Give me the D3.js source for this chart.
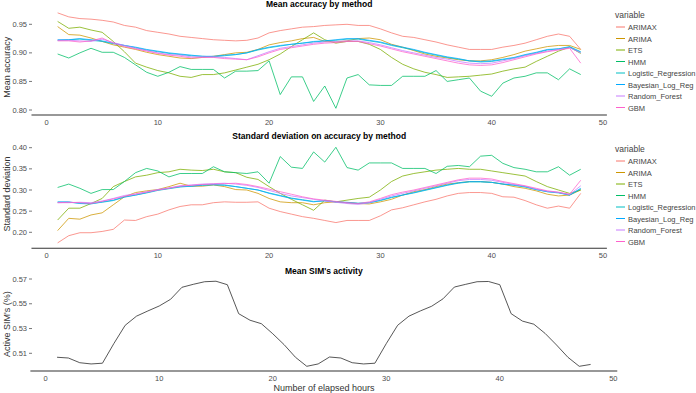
<!DOCTYPE html>
<html>
<head>
<meta charset="utf-8">
<script src="https://cdn.jsdelivr.net/npm/d3@7"></script>
<style>
  body { margin: 0; background: #fff; }
  svg { font-family: "Liberation Sans", Arial, sans-serif; }
</style>
</head>
<body>
<svg id="chart" width="696" height="393"></svg>
<script>
// hours 1..48
var hours = d3.range(1, 49);
var methods = ["ARIMAX", "ARIMA", "ETS", "HMM", "Logistic_Regression", "Bayesian_Log_Reg", "Random_Forest", "GBM"];
var colors = ["#F8766D", "#CD9600", "#7CAE00", "#00BE67", "#00BFC4", "#00A9FF", "#C77CFF", "#FF61CC"];
var xTicks = [0, 10, 20, 30, 40, 50];

// mean accuracy
var accARIMAX = [0.970, 0.963, 0.960, 0.959, 0.957, 0.954, 0.948, 0.945, 0.939, 0.936, 0.933, 0.929, 0.927, 0.925, 0.923, 0.922, 0.921, 0.922, 0.926, 0.935, 0.939, 0.942, 0.945, 0.946,
  0.948, 0.949, 0.950, 0.948, 0.948, 0.942, 0.935, 0.929, 0.927, 0.923, 0.919, 0.914, 0.910, 0.906, 0.906, 0.906, 0.910, 0.913, 0.917, 0.923, 0.929, 0.933, 0.929, 0.906];
var accARIMA = [0.946, 0.932, 0.931, 0.926, 0.920, 0.914, 0.910, 0.906, 0.901, 0.897, 0.894, 0.891, 0.890, 0.892, 0.894, 0.897, 0.900, 0.901, 0.906, 0.914, 0.918, 0.921, 0.925, 0.927,
  0.920, 0.919, 0.921, 0.925, 0.926, 0.923, 0.915, 0.910, 0.904, 0.898, 0.894, 0.891, 0.888, 0.886, 0.886, 0.888, 0.892, 0.897, 0.903, 0.907, 0.911, 0.913, 0.913, 0.906];
var accETS = [0.955, 0.943, 0.945, 0.940, 0.936, 0.920, 0.902, 0.882, 0.875, 0.869, 0.865, 0.859, 0.857, 0.862, 0.862, 0.865, 0.870, 0.875, 0.880, 0.888, 0.898, 0.911, 0.923, 0.935,
  0.923, 0.917, 0.920, 0.920, 0.915, 0.906, 0.892, 0.880, 0.872, 0.866, 0.862, 0.857, 0.858, 0.859, 0.861, 0.863, 0.868, 0.872, 0.875, 0.885, 0.894, 0.903, 0.910, 0.899];
var accHMM = [0.898, 0.891, 0.900, 0.908, 0.901, 0.901, 0.892, 0.879, 0.866, 0.859, 0.866, 0.876, 0.871, 0.871, 0.871, 0.856, 0.868, 0.868, 0.869, 0.886, 0.827, 0.858, 0.858, 0.815,
  0.842, 0.803, 0.856, 0.862, 0.844, 0.843, 0.843, 0.859, 0.859, 0.859, 0.869, 0.850, 0.853, 0.856, 0.833, 0.824, 0.847, 0.856, 0.859, 0.865, 0.865, 0.853, 0.872, 0.862];
var accLogistic = [0.922, 0.923, 0.924, 0.922, 0.920, 0.916, 0.913, 0.909, 0.905, 0.902, 0.899, 0.897, 0.895, 0.894, 0.893, 0.895, 0.897, 0.900, 0.905, 0.909, 0.912, 0.915, 0.917, 0.919,
  0.921, 0.922, 0.924, 0.924, 0.921, 0.918, 0.913, 0.909, 0.905, 0.900, 0.896, 0.892, 0.889, 0.886, 0.884, 0.885, 0.888, 0.891, 0.896, 0.900, 0.905, 0.907, 0.911, 0.902];
var accBayes = [0.923, 0.923, 0.925, 0.923, 0.921, 0.917, 0.913, 0.910, 0.906, 0.903, 0.900, 0.898, 0.896, 0.894, 0.894, 0.896, 0.897, 0.900, 0.906, 0.910, 0.913, 0.915, 0.917, 0.920,
  0.921, 0.923, 0.925, 0.925, 0.922, 0.919, 0.914, 0.910, 0.906, 0.901, 0.897, 0.893, 0.890, 0.886, 0.885, 0.886, 0.889, 0.892, 0.897, 0.901, 0.906, 0.907, 0.910, 0.901];
var accRF = [0.922, 0.922, 0.921, 0.920, 0.924, 0.918, 0.913, 0.908, 0.904, 0.900, 0.897, 0.896, 0.893, 0.893, 0.893, 0.892, 0.890, 0.888, 0.895, 0.902, 0.908, 0.911, 0.914, 0.917,
  0.919, 0.920, 0.921, 0.921, 0.918, 0.914, 0.909, 0.904, 0.900, 0.896, 0.892, 0.889, 0.885, 0.882, 0.881, 0.882, 0.886, 0.890, 0.895, 0.899, 0.903, 0.906, 0.909, 0.900];
var accGBM = [0.921, 0.921, 0.919, 0.921, 0.926, 0.917, 0.911, 0.907, 0.903, 0.899, 0.896, 0.894, 0.891, 0.892, 0.892, 0.890, 0.889, 0.888, 0.893, 0.900, 0.906, 0.909, 0.912, 0.915,
  0.917, 0.918, 0.920, 0.920, 0.916, 0.912, 0.907, 0.902, 0.898, 0.894, 0.890, 0.886, 0.882, 0.879, 0.878, 0.879, 0.883, 0.888, 0.893, 0.898, 0.902, 0.905, 0.908, 0.882];
var accTicks = [0.80, 0.85, 0.90, 0.95];

// standard deviation of accuracy
var sdARIMAX = [0.175, 0.192, 0.199, 0.199, 0.202, 0.207, 0.229, 0.228, 0.237, 0.243, 0.253, 0.261, 0.265, 0.265, 0.270, 0.272, 0.271, 0.271, 0.272, 0.257, 0.249, 0.243, 0.237, 0.233,
  0.228, 0.223, 0.228, 0.228, 0.228, 0.239, 0.253, 0.258, 0.265, 0.272, 0.278, 0.286, 0.292, 0.294, 0.294, 0.292, 0.284, 0.283, 0.275, 0.265, 0.257, 0.262, 0.257, 0.292];
var sdARIMA = [0.204, 0.233, 0.231, 0.241, 0.246, 0.265, 0.284, 0.294, 0.298, 0.301, 0.308, 0.316, 0.309, 0.309, 0.312, 0.308, 0.301, 0.300, 0.292, 0.280, 0.272, 0.270, 0.270, 0.265,
  0.270, 0.272, 0.270, 0.268, 0.267, 0.272, 0.278, 0.288, 0.296, 0.301, 0.308, 0.314, 0.317, 0.320, 0.320, 0.318, 0.314, 0.308, 0.304, 0.298, 0.290, 0.286, 0.288, 0.300];
var sdETS = [0.229, 0.257, 0.257, 0.268, 0.280, 0.308, 0.320, 0.331, 0.335, 0.341, 0.343, 0.349, 0.347, 0.346, 0.349, 0.343, 0.341, 0.330, 0.325, 0.308, 0.292, 0.278, 0.265, 0.252,
  0.276, 0.272, 0.276, 0.280, 0.283, 0.300, 0.320, 0.333, 0.339, 0.343, 0.347, 0.349, 0.351, 0.349, 0.349, 0.345, 0.341, 0.337, 0.333, 0.320, 0.308, 0.300, 0.292, 0.300];
var sdHMM = [0.306, 0.314, 0.304, 0.292, 0.301, 0.301, 0.320, 0.341, 0.351, 0.345, 0.331, 0.339, 0.339, 0.339, 0.355, 0.343, 0.341, 0.339, 0.343, 0.316, 0.379, 0.354, 0.351, 0.390,
  0.366, 0.401, 0.353, 0.347, 0.364, 0.364, 0.364, 0.351, 0.351, 0.351, 0.339, 0.356, 0.358, 0.355, 0.380, 0.382, 0.363, 0.353, 0.349, 0.343, 0.343, 0.355, 0.335, 0.349];
var sdLogistic = [0.271, 0.271, 0.269, 0.268, 0.271, 0.275, 0.283, 0.288, 0.293, 0.299, 0.303, 0.307, 0.309, 0.311, 0.312, 0.311, 0.308, 0.304, 0.300, 0.293, 0.287, 0.281, 0.277, 0.273,
  0.274, 0.272, 0.271, 0.269, 0.270, 0.275, 0.282, 0.288, 0.293, 0.299, 0.305, 0.311, 0.316, 0.319, 0.319, 0.318, 0.314, 0.311, 0.307, 0.301, 0.296, 0.293, 0.288, 0.302];
var sdBayes = [0.272, 0.272, 0.268, 0.267, 0.272, 0.276, 0.284, 0.288, 0.294, 0.300, 0.304, 0.308, 0.309, 0.312, 0.313, 0.312, 0.308, 0.304, 0.300, 0.292, 0.286, 0.280, 0.276, 0.272,
  0.275, 0.272, 0.270, 0.268, 0.270, 0.276, 0.283, 0.288, 0.294, 0.300, 0.306, 0.312, 0.317, 0.320, 0.320, 0.318, 0.314, 0.312, 0.308, 0.301, 0.296, 0.294, 0.288, 0.304];
var sdRF = [0.270, 0.270, 0.271, 0.270, 0.274, 0.280, 0.287, 0.291, 0.296, 0.301, 0.305, 0.310, 0.312, 0.314, 0.315, 0.316, 0.314, 0.311, 0.306, 0.299, 0.292, 0.286, 0.282, 0.278,
  0.274, 0.271, 0.268, 0.266, 0.270, 0.278, 0.286, 0.292, 0.298, 0.304, 0.310, 0.316, 0.322, 0.325, 0.325, 0.323, 0.318, 0.313, 0.309, 0.302, 0.297, 0.294, 0.289, 0.310];
var sdGBM = [0.270, 0.271, 0.270, 0.268, 0.273, 0.279, 0.285, 0.290, 0.295, 0.300, 0.304, 0.309, 0.311, 0.313, 0.314, 0.315, 0.316, 0.313, 0.308, 0.302, 0.296, 0.290, 0.284, 0.279,
  0.276, 0.273, 0.270, 0.268, 0.272, 0.280, 0.289, 0.295, 0.300, 0.306, 0.312, 0.318, 0.324, 0.328, 0.328, 0.326, 0.320, 0.315, 0.310, 0.304, 0.298, 0.295, 0.290, 0.323];
var sdTicks = [0.20, 0.25, 0.30, 0.35, 0.40];

// mean SIM activity
var simActive = [0.5068, 0.5062, 0.5024, 0.5014, 0.5020, 0.5178, 0.5326, 0.5400, 0.5442, 0.5482, 0.5536, 0.5633, 0.5657, 0.5678, 0.5682, 0.5654, 0.5420, 0.5367, 0.5339, 0.5258, 0.5170, 0.5068, 0.4995, 0.5014,
  0.5070, 0.5062, 0.5024, 0.5014, 0.5020, 0.5178, 0.5326, 0.5400, 0.5442, 0.5480, 0.5540, 0.5635, 0.5657, 0.5678, 0.5680, 0.5654, 0.5420, 0.5360, 0.5335, 0.5260, 0.5167, 0.5068, 0.4995, 0.5010];
var simTicks = [0.51, 0.53, 0.55, 0.57];

var accSeries = [accARIMAX, accARIMA, accETS, accHMM, accLogistic, accBayes, accRF, accGBM];
var sdSeries = [sdARIMAX, sdARIMA, sdETS, sdHMM, sdLogistic, sdBayes, sdRF, sdGBM];

var svg = d3.select("#chart");

function drawPanel(opt) {
  var g = svg.append("g");
  var x = d3.scaleLinear().domain([0, 50]).range(opt.xRange);
  var y = d3.scaleLinear().domain(opt.yDomain).range(opt.yRange);
  var line = d3.line()
    .x(function (d, i) { return x(hours[i]); })
    .y(function (d) { return y(d); });

  // lines
  opt.series.forEach(function (s, k) {
    g.append("path")
      .attr("d", line(s))
      .attr("fill", "none")
      .attr("stroke", opt.colors[k])
      .attr("stroke-width", 0.9)
      .attr("stroke-opacity", 0.85)
      .attr("stroke-linejoin", "round");
  });

  // bottom axis line + labels
  g.append("line")
    .attr("x1", x(-1.35)).attr("x2", x(50.35))
    .attr("y1", opt.axisY).attr("y2", opt.axisY)
    .attr("stroke", "#333").attr("stroke-width", 1.1);
  g.selectAll(".xt").data(xTicks).enter().append("text")
    .attr("x", function (d) { return x(d); })
    .attr("y", opt.axisY + 10)
    .attr("text-anchor", "middle")
    .attr("font-size", 7.5)
    .attr("fill", "#4d4d4d")
    .text(function (d) { return d; });

  // y ticks
  g.selectAll(".yt").data(opt.yTicks).enter().append("line")
    .attr("x1", 29).attr("x2", 32)
    .attr("y1", function (d) { return y(d); })
    .attr("y2", function (d) { return y(d); })
    .attr("stroke", "#555").attr("stroke-width", 0.8);
  g.selectAll(".yl").data(opt.yTicks).enter().append("text")
    .attr("x", 27)
    .attr("y", function (d) { return y(d) + 2.6; })
    .attr("text-anchor", "end")
    .attr("font-size", 7.5)
    .attr("fill", "#4d4d4d")
    .text(function (d) { return opt.fmt(d); });

  // y title
  var cy = (opt.yRange[0] + opt.yRange[1]) / 2 + opt.titleShift;
  g.append("text")
    .attr("transform", "translate(10," + cy + ") rotate(-90)")
    .attr("text-anchor", "middle")
    .attr("font-size", 9)
    .attr("fill", "#333")
    .text(opt.yTitle);

  // panel title
  g.append("text")
    .attr("x", (x(-1.35) + x(50.35)) / 2)
    .attr("y", opt.titleY)
    .attr("text-anchor", "middle")
    .attr("font-size", 8.5)
    .attr("font-weight", "bold")
    .attr("fill", "#000")
    .text(opt.title);

  // legend
  if (opt.legendY) {
    var lg = g.append("g").attr("transform", "translate(615," + opt.legendY + ")");
    lg.append("text").attr("x", 0).attr("y", 3)
      .attr("font-size", 8.5).attr("fill", "#444").text("variable");
    methods.forEach(function (m, k) {
      var yy = 12 + k * 11.5;
      lg.append("line").attr("x1", 1).attr("x2", 10)
        .attr("y1", yy).attr("y2", yy)
        .attr("stroke", opt.colors[k]).attr("stroke-width", 1);
      lg.append("text").attr("x", 13).attr("y", yy + 3)
        .attr("font-size", 7.5).attr("fill", "#444").text(m);
    });
  }
}

drawPanel({
  series: accSeries, colors: colors,
  xRange: [46.5, 603], yDomain: [0.80, 0.95], yRange: [110, 24.3],
  axisY: 115, yTicks: accTicks, fmt: d3.format(".2f"),
  yTitle: "Mean accuracy", titleShift: 0, title: "Mean accuracy by method", titleY: 7,
  legendY: 15
});

drawPanel({
  series: sdSeries, colors: colors,
  xRange: [46.5, 603], yDomain: [0.20, 0.40], yRange: [232.3, 147.7],
  axisY: 248.3, yTicks: sdTicks, fmt: d3.format(".2f"),
  yTitle: "Standard deviation", titleShift: 4, title: "Standard deviation on accuracy by method", titleY: 139,
  legendY: 149
});

drawPanel({
  series: [simActive], colors: ["#222"],
  xRange: [45.7, 613.3], yDomain: [0.51, 0.57], yRange: [353.3, 279],
  axisY: 371, yTicks: simTicks, fmt: d3.format(".2f"),
  yTitle: "Active SIM's (%)", titleShift: 8, title: "Mean SIM's activity", titleY: 274,
  legendY: null
});

svg.append("text")
  .attr("x", 324).attr("y", 391)
  .attr("text-anchor", "middle")
  .attr("font-size", 9)
  .attr("fill", "#333")
  .text("Number of elapsed hours");
</script>
</body>
</html>
